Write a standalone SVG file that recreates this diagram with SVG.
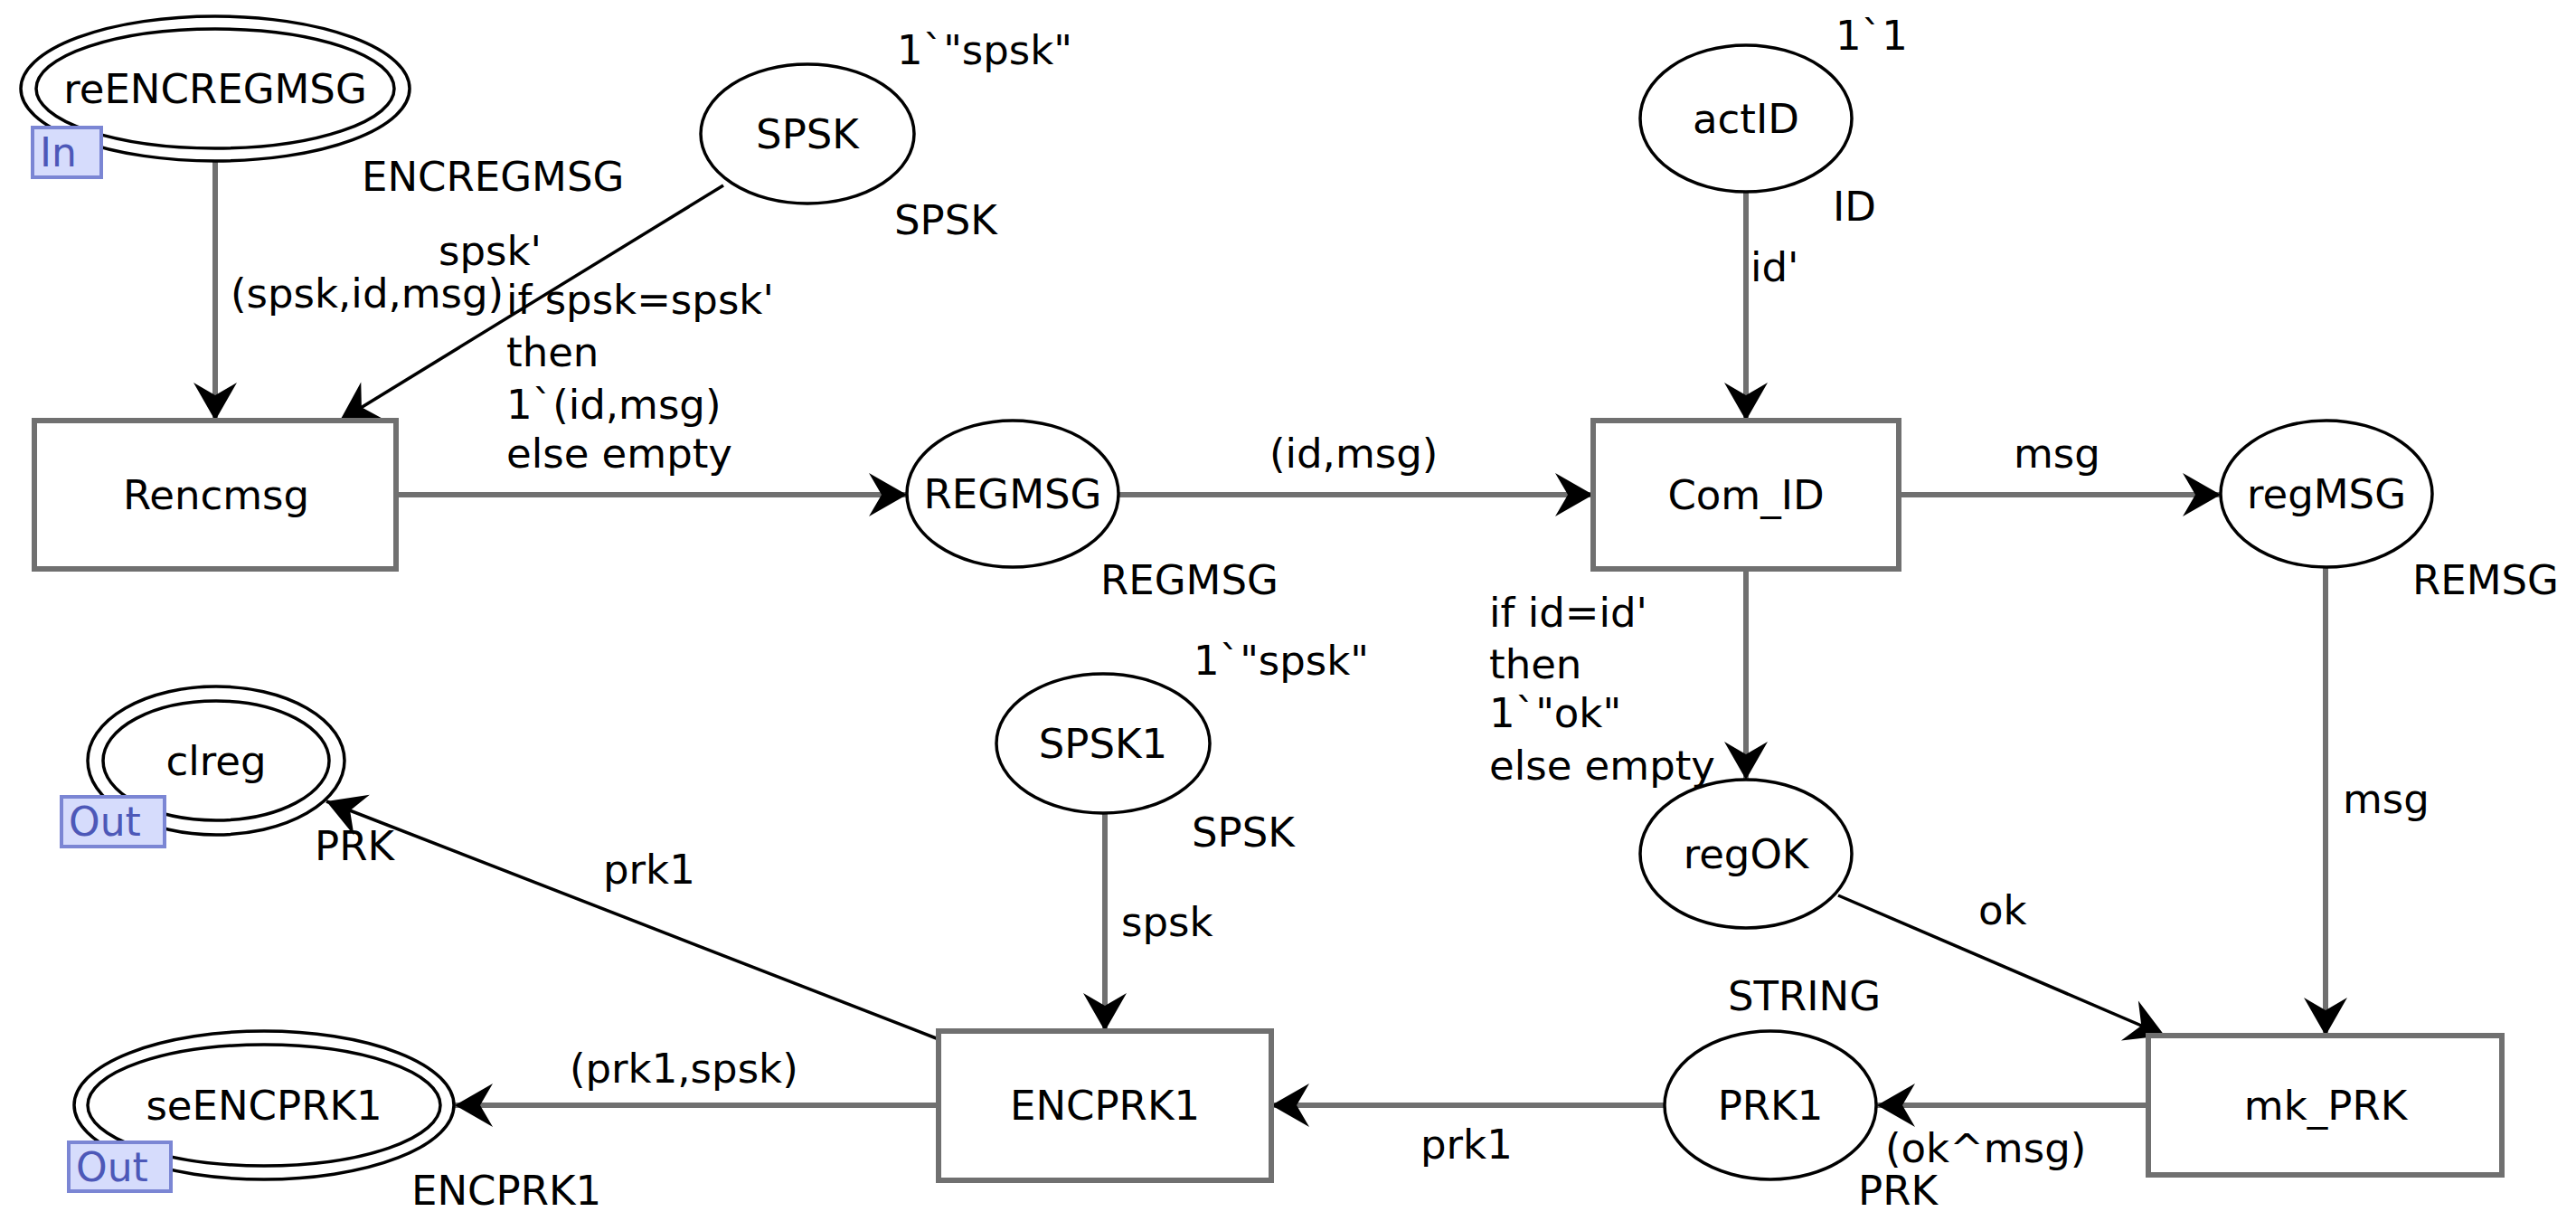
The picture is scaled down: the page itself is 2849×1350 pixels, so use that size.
<svg xmlns="http://www.w3.org/2000/svg" width="2849" height="1350" viewBox="0 0 2849 1350">
<style>
text{font-family:"DejaVu Sans","Liberation Sans",sans-serif;font-size:45px;fill:#000}
.c{text-anchor:middle}
.pl{fill:#fff;stroke:#000;stroke-width:3.5}
.tr{fill:#fff;stroke:#707070;stroke-width:6}
.tag{fill:#d6dcfc;stroke:#7b86d4;stroke-width:4}
.tagt{fill:#4d58b8;font-size:44px}
.a{fill:none;stroke:#707070;stroke-width:6;marker-end:url(#ah)}
.b{fill:none;stroke:#000;stroke-width:3.5;marker-end:url(#ah)}
</style>
<defs>
<marker id="ah" markerUnits="userSpaceOnUse" markerWidth="60" markerHeight="60" viewBox="-45 -30 50 60" refX="0" refY="0" orient="auto">
<path d="M0,0 L-42,-24 L-28,0 L-42,24 Z" fill="#000"/>
</marker>
</defs>
<rect width="2849" height="1350" fill="#fff"/>
<g id="connectors">
<line class="a" x1="238" y1="179" x2="238" y2="465"/>
<line class="b" x1="800" y1="205" x2="376" y2="465"/>
<line class="a" x1="438" y1="547" x2="1003" y2="547"/>
<line class="a" x1="1237" y1="547" x2="1762" y2="547"/>
<line class="a" x1="1931" y1="212" x2="1931" y2="465"/>
<line class="a" x1="2100" y1="547" x2="2456" y2="547"/>
<line class="a" x1="1931" y1="629" x2="1931" y2="862"/>
<line class="a" x1="2572" y1="627" x2="2572" y2="1145"/>
<line class="b" x1="2033" y1="990" x2="2394" y2="1145"/>
<line class="a" x1="2376" y1="1222" x2="2076" y2="1222"/>
<line class="a" x1="1841" y1="1222" x2="1406" y2="1222"/>
<line class="a" x1="1222" y1="899" x2="1222" y2="1140"/>
<line class="b" x1="1038" y1="1149" x2="361" y2="886"/>
<line class="a" x1="1038" y1="1222" x2="503" y2="1222"/>
<text x="255" y="340">(spsk,id,msg)</text>
<text x="485" y="293">spsk'</text>
<text x="560" y="347">if spsk=spsk'</text>
<text x="560" y="405">then</text>
<text x="560" y="463">1`(id,msg)</text>
<text x="560" y="517">else empty</text>
<text x="1404" y="517">(id,msg)</text>
<text x="1936" y="311">id'</text>
<text x="2227" y="517">msg</text>
<text x="1647" y="693">if id=id'</text>
<text x="1647" y="750">then</text>
<text x="1647" y="804">1`"ok"</text>
<text x="1647" y="862">else empty</text>
<text x="2591" y="899">msg</text>
<text x="2188" y="1022">ok</text>
<text x="2085" y="1285">(ok^msg)</text>
<text x="1571" y="1281">prk1</text>
<text x="1240" y="1035">spsk</text>
<text x="667" y="977">prk1</text>
<text x="630" y="1197">(prk1,spsk)</text>
</g>
<g id="reENCREGMSG">
<ellipse class="pl" cx="238" cy="98" rx="215" ry="80"/>
<ellipse class="pl" cx="238" cy="98" rx="198" ry="66"/>
<text class="c" x="238" y="114">reENCREGMSG</text>
<rect class="tag" x="36" y="141" width="76" height="55"/>
<text class="tagt" x="44" y="184">In</text>
<text x="400" y="211">ENCREGMSG</text>
</g>
<g id="SPSK">
<ellipse class="pl" cx="893" cy="148" rx="118" ry="77"/>
<text class="c" x="893" y="164">SPSK</text>
<text x="992" y="71">1`"spsk"</text>
<text x="989" y="259">SPSK</text>
</g>
<g id="Rencmsg">
<rect class="tr" x="38" y="465" width="400" height="164"/>
<text class="c" x="239" y="563">Rencmsg</text>
</g>
<g id="REGMSG">
<ellipse class="pl" cx="1120" cy="546" rx="117" ry="81"/>
<text class="c" x="1120" y="562">REGMSG</text>
<text x="1217" y="657">REGMSG</text>
</g>
<g id="actID">
<ellipse class="pl" cx="1931" cy="131" rx="117" ry="81"/>
<text class="c" x="1931" y="147">actID</text>
<text x="2030" y="55">1`1</text>
<text x="2027" y="244">ID</text>
</g>
<g id="Com_ID">
<rect class="tr" x="1762" y="465" width="338" height="164"/>
<text class="c" x="1931" y="563">Com_ID</text>
</g>
<g id="regMSG">
<ellipse class="pl" cx="2573" cy="546" rx="117" ry="81"/>
<text class="c" x="2573" y="562">regMSG</text>
<text x="2668" y="657">REMSG</text>
</g>
<g id="regOK">
<ellipse class="pl" cx="1931" cy="944" rx="117" ry="82"/>
<text class="c" x="1931" y="960">regOK</text>
</g>
<g id="mk_PRK">
<rect class="tr" x="2376" y="1145" width="391" height="154"/>
<text class="c" x="2572" y="1238">mk_PRK</text>
</g>
<g id="PRK1">
<ellipse class="pl" cx="1958" cy="1222" rx="117" ry="82"/>
<text class="c" x="1958" y="1238">PRK1</text>
<text x="1911" y="1117">STRING</text>
<text x="2055" y="1332">PRK</text>
</g>
<g id="SPSK1">
<ellipse class="pl" cx="1220" cy="822" rx="118" ry="77"/>
<text class="c" x="1220" y="838">SPSK1</text>
<text x="1320" y="746">1`"spsk"</text>
<text x="1318" y="936">SPSK</text>
</g>
<g id="ENCPRK1">
<rect class="tr" x="1038" y="1140" width="368" height="165"/>
<text class="c" x="1222" y="1238">ENCPRK1</text>
</g>
<g id="clreg">
<ellipse class="pl" cx="239" cy="841" rx="142" ry="82"/>
<ellipse class="pl" cx="239" cy="841" rx="125" ry="66"/>
<text class="c" x="239" y="857">clreg</text>
<rect class="tag" x="68" y="881" width="114" height="55"/>
<text class="tagt" x="76" y="924">Out</text>
<text x="348" y="951">PRK</text>
</g>
<g id="seENCPRK1">
<ellipse class="pl" cx="292" cy="1222" rx="210" ry="82"/>
<ellipse class="pl" cx="292" cy="1222" rx="195" ry="67"/>
<text class="c" x="292" y="1238">seENCPRK1</text>
<rect class="tag" x="76" y="1263" width="113" height="54"/>
<text class="tagt" x="84" y="1306">Out</text>
<text x="455" y="1332">ENCPRK1</text>
</g>
</svg>
